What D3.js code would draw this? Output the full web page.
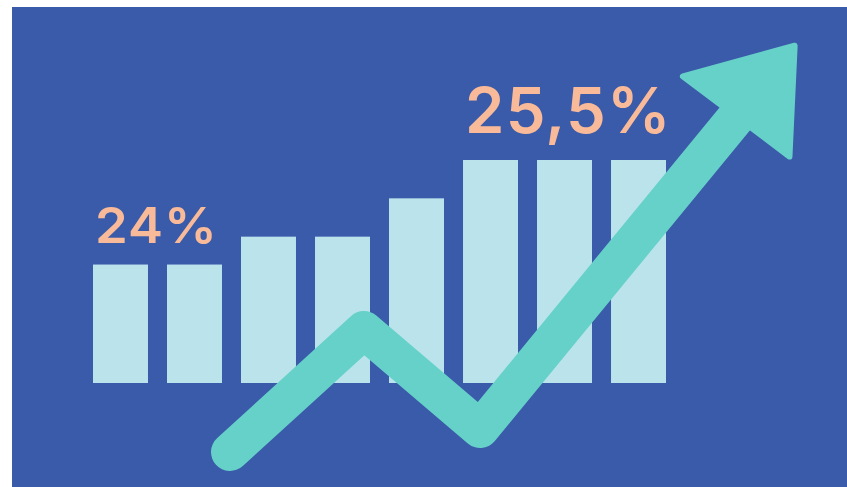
<!DOCTYPE html>
<html><head><meta charset="utf-8">
<script src="https://cdn.jsdelivr.net/npm/d3@7"></script>
<style>html,body{margin:0;padding:0;background:#fff;}svg{display:block;}</style>
</head><body>
<script>
// Data
const categories = ["1","2","3","4","5","6","7","8"];
const values = [24.0, 24.0, 24.4, 24.4, 24.95, 25.5, 25.5, 25.5];
const labelTexts = ["24%", "25,5%"];
const labelIndex = [0, 5];
// arrow trend line in (bar index, value) units
const arrowIdx = [1.48, 3.29, 4.86, 8.51];
const arrowVal = [21.31, 23.06, 21.64, 26.36];
const headIdx = [7.60, 9.11, 9.04];
const headVal = [26.70, 27.14, 25.55];

const W = 847, H = 487;
const svg = d3.select("body").append("svg").attr("width", W).attr("height", H);
svg.append("rect").attr("x", 12).attr("y", 7).attr("width", W - 12).attr("height", H - 7).attr("fill", "#3A5AAA");

const x = d3.scaleBand().domain(categories).range([93, 666]).paddingInner(0.257).paddingOuter(0);
const y = d3.scaleLinear().domain([22.3, 25.5]).range([383, 160]);
const xi = d3.scaleLinear().domain([0, 7]).range([x(categories[0]) + x.bandwidth()/2, x(categories[7]) + x.bandwidth()/2]);

svg.append("g").selectAll("rect").data(values).join("rect")
  .attr("x", (d,i) => x(categories[i]))
  .attr("y", d => y(d))
  .attr("width", x.bandwidth())
  .attr("height", d => y.range()[0] - y(d))
  .attr("fill", "#BAE3EC");

const sizes = [49, 63];
const widths = [123, 207];
svg.append("g").selectAll("text").data(labelTexts).join("text")
  .attr("font-family", "Inter, 'DejaVu Sans', sans-serif")
  .attr("font-weight", 600)
  .attr("font-size", (d,i) => sizes[i])
  .attr("letter-spacing", (d,i) => sizes[i]*0.02)
  .attr("fill", "#F8BA98")
  .text(d => d)
  .each(function(d,i) {
    const w = this.getComputedTextLength();
    const sx = widths[i] / w;
    const tx = x(categories[labelIndex[i]]) + 2;
    const ty = y(values[labelIndex[i]]) - sizes[i]*0.43;
    d3.select(this).attr("transform", `translate(${tx},${ty}) scale(${sx},1)`);
  });

const line = d3.line().x(d => xi(d[0])).y(d => y(d[1]));
const pts = arrowIdx.map((d,i) => [d, arrowVal[i]]);
svg.append("path").attr("d", line(pts))
  .attr("fill", "none").attr("stroke", "#66D1C8")
  .attr("stroke-width", 38).attr("stroke-linecap", "round").attr("stroke-linejoin", "round");

const head = headIdx.map((d,i) => [d, headVal[i]]);
svg.append("path").attr("d", line(head) + "Z")
  .attr("fill", "#66D1C8").attr("stroke", "#66D1C8")
  .attr("stroke-width", 6).attr("stroke-linejoin", "round");
</script>
</body></html>
